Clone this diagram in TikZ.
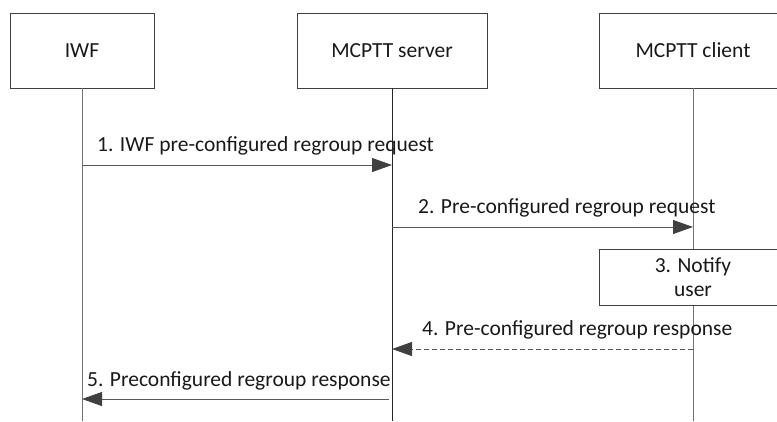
\documentclass[tikz,border=0pt]{standalone}
\usepackage{fontspec}
\setmainfont{Carlito}
\usetikzlibrary{arrows.meta}

\begin{document}
\begin{tikzpicture}[
    x=1pt, y=-1pt,
    every node/.style={font=\fontsize{21.5}{24}\selectfont, text=black!90},
    actor/.style={draw=black!75, line width=0.9pt, minimum width=#1, minimum height=75pt, inner sep=0pt},
    life/.style={draw=black!55, line width=0.9pt},
    msg/.style={draw=black!65, line width=0.9pt, -{Triangle[length=20pt,width=14pt,color=black!75]}},
    msglabel/.style={anchor=base west, inner sep=0pt}
]

    % Frame of the picture
    \useasboundingbox (0,0) rectangle (777,421);
    \clip (0,0) rectangle (777,421);

    % The three parties
    \node[actor=144pt] (iwf) at (82,50.5) {IWF};
    \node[actor=190pt] (server) at (392,50.5) {MCPTT server};
    \node[actor=188pt] (client) at (693,50.5) {MCPTT client};

    % Lifelines
    \draw[life] (iwf) -- (iwf |- 0,421);
    \draw[life, draw=black!85] (server) -- (server |- 0,421);
    \draw[life] (client) -- (client |- 0,421);

    % Local step on the client
    \node[draw=black!75, fill=white, line width=0.9pt, minimum width=188pt, minimum height=56pt,
          align=center, inner sep=0pt] (notify) at (693,277) {3. Notify\\user};

    % Message end points on the lifelines
    \coordinate (m1a) at (iwf |- 0,165);
    \coordinate (m1b) at (server |- 0,165);
    \coordinate (m2a) at (server |- 0,227);
    \coordinate (m2b) at (client |- 0,227);
    \coordinate (m4a) at (client |- 0,349);
    \coordinate (m4b) at (server |- 0,349);
    \coordinate (m5a) at (389,399);
    \coordinate (m5b) at (iwf |- 0,399);

    % Messages
    \draw[msg] (m1a) -- (m1b);
    \node[msglabel] (l1) at (97,151) {1. IWF pre-configured regroup request};

    \draw[msg] (m2a) -- (m2b);
    \node[msglabel] (l2) at (418,213) {2. Pre-configured regroup request};

    \draw[msg, dash pattern=on 5pt off 3pt] (m4a) -- (m4b);
    \node[msglabel] (l4) at (422,335) {4. Pre-configured regroup response};

    \draw[msg] (m5a) -- (m5b);
    \node[msglabel] (l5) at (87,386) {5. Preconfigured regroup response};

\end{tikzpicture}
\end{document}
